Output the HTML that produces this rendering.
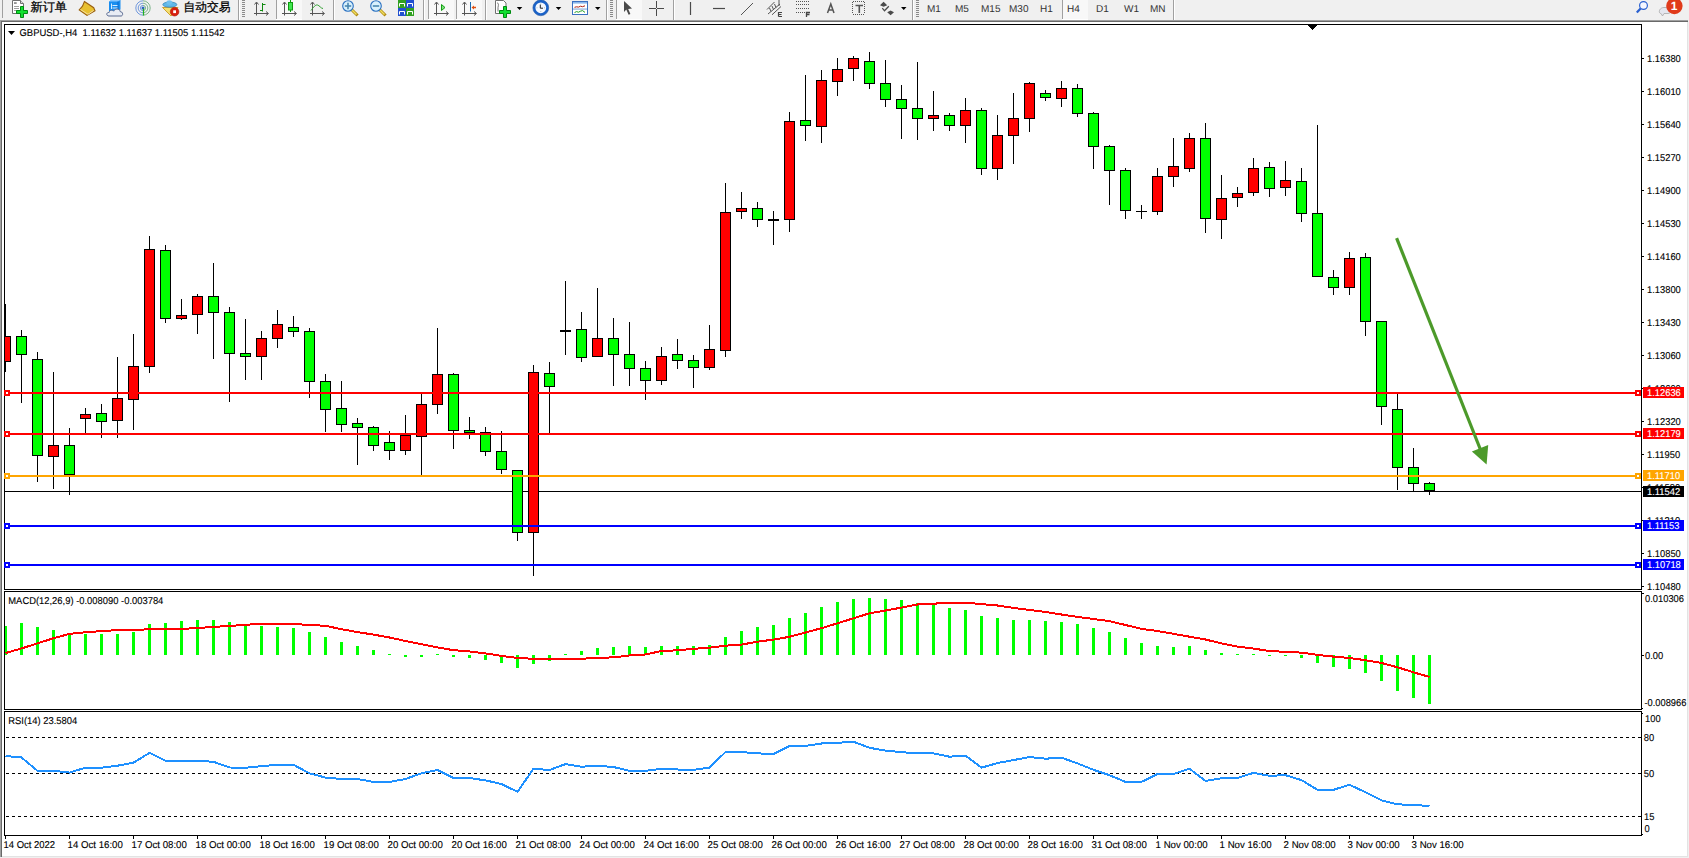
<!DOCTYPE html>
<html><head><meta charset="utf-8"><style>
html,body{margin:0;padding:0;width:1689px;height:858px;overflow:hidden;background:#f0f0f0}
svg{position:absolute;left:0;top:0;display:block}
text{font-family:"Liberation Sans",sans-serif;text-rendering:geometricPrecision}
</style></head><body>
<svg width="1689" height="858" viewBox="0 0 1689 858">
<rect x="0" y="0" width="1689" height="20" fill="#f0f0f0"/>
<rect x="2" y="0" width="1" height="18" fill="#a0a0a0"/>
<path d="M12.5 0.5h8l3 3v10h-11z" fill="#fff" stroke="#707070" stroke-width="1"/><path d="M20.5 0.5v3h3" fill="#ddd" stroke="#707070" stroke-width="1"/>
<rect x="14" y="2.3" width="2.7" height="1.5" fill="#777"/><rect x="14" y="6" width="5" height="0.8" fill="#888"/><rect x="14" y="8" width="5" height="0.8" fill="#888"/><rect x="14" y="10" width="3" height="0.8" fill="#888"/>
<path d="M20.5 6.5h3v4h4v3h-4v4h-3v-4h-4v-3h4z" fill="#10e030" stroke="#008a10" stroke-width="1"/>
<text x="30.5" y="10.6" font-size="12" fill="#000" textLength="36.5" lengthAdjust="spacingAndGlyphs" stroke="#000" stroke-width="0.25">新订单</text>
<path d="M84.4 1.5L93.7 7.7L95 10.8L87 15.4L79.2 10L82.5 6.2Z" fill="#e8c030" stroke="#9a6010" stroke-width="1.1"/><path d="M80.5 9.5L88 14.3L93.5 10.5" stroke="#f4e0a0" stroke-width="1" fill="none"/>
<path d="M109 1.5L111.5 0H120.5V9.5L118 11H109Z" fill="#1a8ef0"/><path d="M109 1.5L111.5 0H120.5L118 1.5Z" fill="#8ac8ff"/><path d="M118 1.5V11" stroke="#0a60c0" stroke-width="0.8"/><path d="M111.5 3.5V9M112.5 5.5h5M112.5 8h5" stroke="#d8ecff" stroke-width="1" fill="none"/>
<path d="M109 16C106 16 106 12.2 109.2 12.4C109.5 10 112.5 9.6 113.6 11.2C114.8 8.2 119.6 8.2 120.2 11.6C123.2 11.6 123.4 16 121 16Z" fill="#e8ecf4" stroke="#5a6a90" stroke-width="1"/>
<path d="M143 0.8A7.2 7.2 0 0 0 143 15.2" stroke="#5a88d8" stroke-width="1" fill="none" opacity="0.85"/>
<path d="M143 0.8A7.2 7.2 0 0 1 143 15.2" stroke="#6aaa78" stroke-width="1" fill="none" opacity="0.85"/>
<path d="M143 3.2A4.8 4.8 0 0 0 143 12.8" stroke="#5a88d8" stroke-width="1" fill="none" opacity="0.85"/>
<path d="M143 3.2A4.8 4.8 0 0 1 143 12.8" stroke="#6aaa78" stroke-width="1" fill="none" opacity="0.85"/>
<path d="M143 5.4A2.6 2.6 0 0 0 143 10.6" stroke="#5a88d8" stroke-width="1" fill="none" opacity="0.85"/>
<path d="M143 5.4A2.6 2.6 0 0 1 143 10.6" stroke="#6aaa78" stroke-width="1" fill="none" opacity="0.85"/>
<circle cx="143" cy="8" r="1.5" fill="#2a60c8"/><path d="M143.5 8.5V15.5" stroke="#20b020" stroke-width="1.2" fill="none"/>
<path d="M162.5 7.5L178 7.5L171 16Z" fill="#f4e070" stroke="#c89a20" stroke-width="0.9"/>
<ellipse cx="169.8" cy="4.6" rx="7" ry="2.6" fill="#60b8e8" stroke="#3a88b8" stroke-width="0.8"/><ellipse cx="169.3" cy="2.6" rx="2.8" ry="2.3" fill="#70c0ee"/>
<circle cx="174.6" cy="11.7" r="4.3" fill="#d82010" stroke="#b01808" stroke-width="0.6"/><rect x="173.2" y="10.3" width="2.8" height="2.8" fill="#fff"/>
<text x="183.5" y="10.6" font-size="12" fill="#000" textLength="47" lengthAdjust="spacingAndGlyphs" stroke="#000" stroke-width="0.25">自动交易</text>
<rect x="238" y="0" width="1" height="20" fill="#a0a0a0"/><rect x="239" y="0" width="1" height="20" fill="#ffffff"/>
<rect x="242" y="0" width="3" height="1" fill="#8a8a8a"/>
<rect x="242" y="2" width="3" height="1" fill="#8a8a8a"/>
<rect x="242" y="4" width="3" height="1" fill="#8a8a8a"/>
<rect x="242" y="6" width="3" height="1" fill="#8a8a8a"/>
<rect x="242" y="8" width="3" height="1" fill="#8a8a8a"/>
<rect x="242" y="10" width="3" height="1" fill="#8a8a8a"/>
<rect x="242" y="12" width="3" height="1" fill="#8a8a8a"/>
<rect x="242" y="14" width="3" height="1" fill="#8a8a8a"/>
<rect x="242" y="16" width="3" height="1" fill="#8a8a8a"/>
<path d="M256.5 2.5V15.5M254 13.5H268" stroke="#555555" stroke-width="1" fill="none"/>
<path d="M254.5 4.5L256.5 2L258.5 4.5M266 11.5L268.5 13.5L266 15.5" stroke="#555555" stroke-width="1" fill="none"/>
<path d="M260 10.5h2.5M262.5 3v8.5M262.5 4.5h3" stroke="#108a10" stroke-width="1" fill="none"/>
<rect x="276" y="0" width="1" height="19" fill="#a0a0a0"/><rect x="277" y="0" width="25" height="19" fill="#f8f8f8"/><rect x="276" y="19" width="26" height="1" fill="#ffffff"/>
<path d="M284.5 2.5V15.5M282 13.5H296" stroke="#555555" stroke-width="1" fill="none"/>
<path d="M282.5 4.5L284.5 2L286.5 4.5M294 11.5L296.5 13.5L294 15.5" stroke="#555555" stroke-width="1" fill="none"/>
<rect x="288.5" y="2.5" width="4" height="7.5" fill="#40e850" stroke="#109a10" stroke-width="1"/><path d="M290.5 0v2.5M290.5 10v2" stroke="#109a10" stroke-width="1"/>
<path d="M312.5 2.5V15.5M310 13.5H324" stroke="#555555" stroke-width="1" fill="none"/>
<path d="M310.5 4.5L312.5 2L314.5 4.5M322 11.5L324.5 13.5L322 15.5" stroke="#555555" stroke-width="1" fill="none"/>
<path d="M311 10.5C313.5 7 315.5 4.5 317.5 5C319.5 5.5 321 8.5 323 8.5" stroke="#30a030" stroke-width="1" fill="none"/>
<rect x="333" y="0" width="1" height="20" fill="#a0a0a0"/><rect x="334" y="0" width="1" height="20" fill="#ffffff"/>
<path d="M351.5 9.5L356.5 14.5" stroke="#b08a10" stroke-width="3" stroke-linecap="square"/><path d="M351.5 9.5L356.5 14.5" stroke="#f0e060" stroke-width="1.4"/>
<circle cx="348" cy="6" r="5.3" fill="#d8f0fc" stroke="#2a70c0" stroke-width="1.1"/>
<path d="M344.8 6H351.2" stroke="#4a88b0" stroke-width="1.6"/>
<path d="M348 2.8V9.2" stroke="#4a88b0" stroke-width="1.6"/>
<path d="M379.5 9.5L384.5 14.5" stroke="#b08a10" stroke-width="3" stroke-linecap="square"/><path d="M379.5 9.5L384.5 14.5" stroke="#f0e060" stroke-width="1.4"/>
<circle cx="376" cy="6" r="5.3" fill="#d8f0fc" stroke="#2a70c0" stroke-width="1.1"/>
<path d="M372.8 6H379.2" stroke="#4a88b0" stroke-width="1.6"/>
<rect x="398" y="0" width="8" height="8" fill="#30a020"/><rect x="406" y="0" width="8" height="8" fill="#2050d0"/><rect x="398" y="8" width="8" height="8" fill="#2050d0"/><rect x="406" y="8" width="8" height="8" fill="#30a020"/>
<path d="M399.5 3.5h5v3M399.5 3.5v3M407.5 3.5h5v3M407.5 3.5v3M399.5 11.5h5v3M399.5 11.5v3M407.5 11.5h5v3M407.5 11.5v3" stroke="#fff" stroke-width="1" fill="none"/>
<rect x="423" y="0" width="1" height="20" fill="#a0a0a0"/><rect x="424" y="0" width="1" height="20" fill="#ffffff"/>
<rect x="428" y="0" width="1" height="19" fill="#a0a0a0"/><rect x="429" y="0" width="25" height="19" fill="#f8f8f8"/><rect x="428" y="19" width="26" height="1" fill="#ffffff"/>
<path d="M436.5 2.5V15.5M434 13.5H448" stroke="#555555" stroke-width="1" fill="none"/>
<path d="M434.5 4.5L436.5 2L438.5 4.5M446 11.5L448.5 13.5L446 15.5" stroke="#555555" stroke-width="1" fill="none"/>
<path d="M441.5 4.5L445 7.5L441.5 10.5Z" fill="#80e080" stroke="#10a010" stroke-width="1"/>
<rect x="456" y="0" width="1" height="19" fill="#a0a0a0"/><rect x="457" y="0" width="25" height="19" fill="#f8f8f8"/><rect x="456" y="19" width="26" height="1" fill="#ffffff"/>
<path d="M464.5 2.5V15.5M462 13.5H476" stroke="#555555" stroke-width="1" fill="none"/>
<path d="M462.5 4.5L464.5 2L466.5 4.5M474 11.5L476.5 13.5L474 15.5" stroke="#555555" stroke-width="1" fill="none"/>
<path d="M470.5 2V11.5" stroke="#1a6ab0" stroke-width="1"/><path d="M471.5 7.5L474 5.5V6.8H476V8.2H474V9.5Z" fill="#e05010"/>
<rect x="485" y="0" width="1" height="20" fill="#a0a0a0"/><rect x="486" y="0" width="1" height="20" fill="#ffffff"/>
<path d="M495.5 0.5h8l2.5 2.5v10.5h-10.5z" fill="#fff" stroke="#707070" stroke-width="1"/><path d="M497 3.5c1 -1 2 0 1 4v4" stroke="#555" stroke-width="0.8" fill="none"/>
<path d="M503.5 6.5h3v4h4v3h-4v4h-3v-4h-4v-3h4z" fill="#10e030" stroke="#008a10" stroke-width="1"/>
<path d="M516.8 7h5.5l-2.75 3z" fill="#000"/>
<circle cx="540.8" cy="7.8" r="6.6" fill="#f4f8ff" stroke="#1a62c8" stroke-width="2.4"/><circle cx="540.8" cy="7.8" r="7.9" fill="none" stroke="#0a48a0" stroke-width="0.6"/><path d="M540.8 3.6v0.8M540.8 11.2v0.8M536.6 7.8h0.8M544.2 7.8h0.8" stroke="#8aa" stroke-width="0.8"/><path d="M540.3 4.6V8.2H543" stroke="#222" stroke-width="1" fill="none"/><rect x="539.6" y="0" width="2.4" height="1" fill="#1a62c8"/>
<path d="M555.8 7h5.5l-2.75 3z" fill="#000"/>
<rect x="572.5" y="1.5" width="15" height="13" fill="#ffffff" stroke="#3a70c0" stroke-width="1"/><rect x="573" y="2" width="14" height="1.6" fill="#8ab8ec"/><rect x="573" y="8.6" width="14" height="0.9" fill="#6a98d0"/>
<path d="M574.5 7.3L576.5 6.8L578.5 7.1L580.5 6.2L582.5 6.7L585 5.8" stroke="#b02010" fill="none" stroke-width="1"/><path d="M574.5 12.6L576.5 11.6L578.5 12.2L580.5 11.2L582.5 10.6L585 12.4" stroke="#20a020" fill="none" stroke-width="1"/>
<path d="M595 7h5.5l-2.75 3z" fill="#000"/>
<rect x="606" y="0" width="1" height="20" fill="#a0a0a0"/><rect x="607" y="0" width="1" height="20" fill="#ffffff"/>
<rect x="610" y="0" width="3" height="1" fill="#8a8a8a"/>
<rect x="610" y="2" width="3" height="1" fill="#8a8a8a"/>
<rect x="610" y="4" width="3" height="1" fill="#8a8a8a"/>
<rect x="610" y="6" width="3" height="1" fill="#8a8a8a"/>
<rect x="610" y="8" width="3" height="1" fill="#8a8a8a"/>
<rect x="610" y="10" width="3" height="1" fill="#8a8a8a"/>
<rect x="610" y="12" width="3" height="1" fill="#8a8a8a"/>
<rect x="610" y="14" width="3" height="1" fill="#8a8a8a"/>
<rect x="610" y="16" width="3" height="1" fill="#8a8a8a"/>
<rect x="616" y="0" width="1" height="20" fill="#a0a0a0"/>
<rect x="616" y="0" width="1" height="19" fill="#a0a0a0"/><rect x="617" y="0" width="25" height="19" fill="#f8f8f8"/><rect x="616" y="19" width="26" height="1" fill="#ffffff"/>
<path d="M624 1V12L626.3 9.6L628.6 14.8L630.4 14L628.2 8.9L632 8.6Z" fill="#4a4a4a"/>
<path d="M649 8.5H656M657 8.5H664M656.5 1V8M656.5 9V16" stroke="#4a4a4a" stroke-width="1"/>
<rect x="673" y="0" width="1" height="20" fill="#a0a0a0"/><rect x="674" y="0" width="1" height="20" fill="#ffffff"/>
<path d="M690.5 2V15" stroke="#4a4a4a" stroke-width="1.2"/>
<path d="M713 8.5H725" stroke="#4a4a4a" stroke-width="1.2"/>
<path d="M741 15L753 3" stroke="#555" stroke-width="1"/>
<path d="M767 9.5L774.5 2M768 14L780 4M772 14.8L781 6.5M769.5 8l1.5 3.5M772 6l1.5 3.5M774.5 4l1.5 3.5M779 0v6" stroke="#555" stroke-width="1" fill="none"/>
<path d="M778.5 16.5V12.5H782M778.5 14.5H781.5M778.5 16.5H782" stroke="#444" stroke-width="1.2" fill="none"/>
<path d="M796 1.5h13M796 4.5h13M796 8.5h13M796 12.5h9" stroke="#555" stroke-width="1" stroke-dasharray="1 1"/>
<path d="M806.5 17V12.5H810M806.5 14.5H809.5" stroke="#444" stroke-width="1.3" fill="none"/>
<path d="M827.5 13L830.8 4L834 13M828.7 10H832.9" stroke="#555" stroke-width="1.5" fill="none"/>
<path d="M853 1.5h12M853 14.5h12M852.5 2v12M864.5 2v12" fill="none" stroke="#555" stroke-width="1" stroke-dasharray="1 1" shape-rendering="crispEdges"/><path d="M855.5 5.5H863M859.3 5.5V13" stroke="#555" stroke-width="1.6" fill="none"/>
<path d="M880 5.2L883.6 1.8L887.2 5.2L883.6 6.8Z M887.2 12.2L890.6 10.4L894 12.2L890.6 15.2Z" fill="#4a4a4a"/><path d="M882.3 8.2l2.2 2.6 4.3-4.6" stroke="#4a4a4a" stroke-width="1.3" fill="none"/>
<path d="M901 7h5.5l-2.75 3z" fill="#000"/>
<rect x="912" y="0" width="1" height="20" fill="#a0a0a0"/><rect x="913" y="0" width="1" height="20" fill="#ffffff"/>
<rect x="916" y="0" width="3" height="1" fill="#8a8a8a"/>
<rect x="916" y="2" width="3" height="1" fill="#8a8a8a"/>
<rect x="916" y="4" width="3" height="1" fill="#8a8a8a"/>
<rect x="916" y="6" width="3" height="1" fill="#8a8a8a"/>
<rect x="916" y="8" width="3" height="1" fill="#8a8a8a"/>
<rect x="916" y="10" width="3" height="1" fill="#8a8a8a"/>
<rect x="916" y="12" width="3" height="1" fill="#8a8a8a"/>
<rect x="916" y="14" width="3" height="1" fill="#8a8a8a"/>
<rect x="916" y="16" width="3" height="1" fill="#8a8a8a"/>
<text x="927" y="12.3" font-size="10" fill="#333">M1</text>
<text x="955" y="12.3" font-size="10" fill="#333">M5</text>
<text x="981" y="12.3" font-size="10" fill="#333">M15</text>
<text x="1009" y="12.3" font-size="10" fill="#333">M30</text>
<text x="1040" y="12.3" font-size="10" fill="#333">H1</text>
<rect x="1062" y="0" width="1" height="19" fill="#a0a0a0"/><rect x="1063" y="0" width="25" height="19" fill="#f8f8f8"/><rect x="1062" y="19" width="26" height="1" fill="#ffffff"/>
<text x="1067" y="12.3" font-size="10" fill="#333">H4</text>
<text x="1096" y="12.3" font-size="10" fill="#333">D1</text>
<text x="1124" y="12.3" font-size="10" fill="#333">W1</text>
<text x="1150" y="12.3" font-size="10" fill="#333">MN</text>
<rect x="1173" y="0" width="1" height="20" fill="#a0a0a0"/><rect x="1174" y="0" width="1" height="20" fill="#ffffff"/>
<circle cx="1643.5" cy="5.5" r="3.9" fill="#f4f6ff" stroke="#2a60d0" stroke-width="1.2"/><path d="M1640.6 8.4L1636.8 12.6" stroke="#2a60d0" stroke-width="2.2"/>
<path d="M1661 13.5C1658 13.5 1659 7.5 1664 7.5H1668C1672 7.5 1672 13.5 1668 13.5H1664L1662.5 16Z" fill="#e4e6ee" stroke="#a8a8a8" stroke-width="0.8"/><circle cx="1674.4" cy="6" r="8.2" fill="#e03a1a"/><text x="1670.8" y="10.3" font-size="12" fill="#fff" font-weight="bold">1</text>
<rect x="0" y="20" width="1688" height="1" fill="#a0a0a0"/>
<rect x="0" y="21" width="1688" height="1" fill="#696969"/>
<rect x="0" y="20" width="1" height="837" fill="#a0a0a0"/>
<rect x="1" y="21" width="1" height="836" fill="#696969"/>
<rect x="2" y="22" width="1685" height="834" fill="#ffffff"/>
<rect x="1687" y="22" width="1" height="835" fill="#e3e3e3"/>
<rect x="2" y="856" width="1686" height="1" fill="#e3e3e3"/>
<defs><clipPath id="cm"><rect x="5" y="25" width="1636" height="564"/></clipPath>
<clipPath id="cd"><rect x="5" y="592" width="1636" height="117"/></clipPath>
<clipPath id="cr"><rect x="5" y="712" width="1636" height="123"/></clipPath></defs>
<g shape-rendering="crispEdges">
<g clip-path="url(#cm)">
<rect x="5" y="491" width="1636" height="1" fill="#000"/>
<rect x="5" y="304" width="1" height="68" fill="#000"/>
<rect x="0" y="336" width="11" height="26" fill="#000"/>
<rect x="1" y="337" width="9" height="24" fill="#ff0000"/>
<rect x="21" y="330" width="1" height="73" fill="#000"/>
<rect x="16" y="336" width="11" height="19" fill="#000"/>
<rect x="17" y="337" width="9" height="17" fill="#00ff00"/>
<rect x="37" y="352" width="1" height="130" fill="#000"/>
<rect x="32" y="359" width="11" height="97" fill="#000"/>
<rect x="33" y="360" width="9" height="95" fill="#00ff00"/>
<rect x="53" y="372" width="1" height="117" fill="#000"/>
<rect x="48" y="445" width="11" height="12" fill="#000"/>
<rect x="49" y="446" width="9" height="10" fill="#ff0000"/>
<rect x="69" y="428" width="1" height="67" fill="#000"/>
<rect x="64" y="445" width="11" height="30" fill="#000"/>
<rect x="65" y="446" width="9" height="28" fill="#00ff00"/>
<rect x="85" y="408" width="1" height="25" fill="#000"/>
<rect x="80" y="414" width="11" height="5" fill="#000"/>
<rect x="81" y="415" width="9" height="3" fill="#ff0000"/>
<rect x="101" y="404" width="1" height="34" fill="#000"/>
<rect x="96" y="413" width="11" height="9" fill="#000"/>
<rect x="97" y="414" width="9" height="7" fill="#00ff00"/>
<rect x="117" y="357" width="1" height="81" fill="#000"/>
<rect x="112" y="398" width="11" height="23" fill="#000"/>
<rect x="113" y="399" width="9" height="21" fill="#ff0000"/>
<rect x="133" y="334" width="1" height="96" fill="#000"/>
<rect x="128" y="366" width="11" height="34" fill="#000"/>
<rect x="129" y="367" width="9" height="32" fill="#ff0000"/>
<rect x="149" y="236" width="1" height="137" fill="#000"/>
<rect x="144" y="249" width="11" height="118" fill="#000"/>
<rect x="145" y="250" width="9" height="116" fill="#ff0000"/>
<rect x="165" y="245" width="1" height="78" fill="#000"/>
<rect x="160" y="250" width="11" height="69" fill="#000"/>
<rect x="161" y="251" width="9" height="67" fill="#00ff00"/>
<rect x="181" y="299" width="1" height="21" fill="#000"/>
<rect x="176" y="315" width="11" height="4" fill="#000"/>
<rect x="177" y="316" width="9" height="2" fill="#ff0000"/>
<rect x="197" y="294" width="1" height="40" fill="#000"/>
<rect x="192" y="296" width="11" height="19" fill="#000"/>
<rect x="193" y="297" width="9" height="17" fill="#ff0000"/>
<rect x="213" y="263" width="1" height="96" fill="#000"/>
<rect x="208" y="296" width="11" height="17" fill="#000"/>
<rect x="209" y="297" width="9" height="15" fill="#00ff00"/>
<rect x="229" y="307" width="1" height="95" fill="#000"/>
<rect x="224" y="312" width="11" height="42" fill="#000"/>
<rect x="225" y="313" width="9" height="40" fill="#00ff00"/>
<rect x="245" y="319" width="1" height="61" fill="#000"/>
<rect x="240" y="353" width="11" height="4" fill="#000"/>
<rect x="241" y="354" width="9" height="2" fill="#00ff00"/>
<rect x="261" y="331" width="1" height="49" fill="#000"/>
<rect x="256" y="338" width="11" height="19" fill="#000"/>
<rect x="257" y="339" width="9" height="17" fill="#ff0000"/>
<rect x="277" y="310" width="1" height="38" fill="#000"/>
<rect x="272" y="324" width="11" height="15" fill="#000"/>
<rect x="273" y="325" width="9" height="13" fill="#ff0000"/>
<rect x="293" y="316" width="1" height="21" fill="#000"/>
<rect x="288" y="327" width="11" height="5" fill="#000"/>
<rect x="289" y="328" width="9" height="3" fill="#00ff00"/>
<rect x="309" y="328" width="1" height="70" fill="#000"/>
<rect x="304" y="331" width="11" height="51" fill="#000"/>
<rect x="305" y="332" width="9" height="49" fill="#00ff00"/>
<rect x="325" y="374" width="1" height="58" fill="#000"/>
<rect x="320" y="381" width="11" height="29" fill="#000"/>
<rect x="321" y="382" width="9" height="27" fill="#00ff00"/>
<rect x="341" y="381" width="1" height="51" fill="#000"/>
<rect x="336" y="408" width="11" height="17" fill="#000"/>
<rect x="337" y="409" width="9" height="15" fill="#00ff00"/>
<rect x="357" y="418" width="1" height="47" fill="#000"/>
<rect x="352" y="423" width="11" height="5" fill="#000"/>
<rect x="353" y="424" width="9" height="3" fill="#00ff00"/>
<rect x="373" y="426" width="1" height="25" fill="#000"/>
<rect x="368" y="427" width="11" height="19" fill="#000"/>
<rect x="369" y="428" width="9" height="17" fill="#00ff00"/>
<rect x="389" y="431" width="1" height="29" fill="#000"/>
<rect x="384" y="442" width="11" height="9" fill="#000"/>
<rect x="385" y="443" width="9" height="7" fill="#00ff00"/>
<rect x="405" y="415" width="1" height="40" fill="#000"/>
<rect x="400" y="435" width="11" height="16" fill="#000"/>
<rect x="401" y="436" width="9" height="14" fill="#ff0000"/>
<rect x="421" y="394" width="1" height="81" fill="#000"/>
<rect x="416" y="404" width="11" height="33" fill="#000"/>
<rect x="417" y="405" width="9" height="31" fill="#ff0000"/>
<rect x="437" y="328" width="1" height="86" fill="#000"/>
<rect x="432" y="374" width="11" height="31" fill="#000"/>
<rect x="433" y="375" width="9" height="29" fill="#ff0000"/>
<rect x="453" y="373" width="1" height="76" fill="#000"/>
<rect x="448" y="374" width="11" height="57" fill="#000"/>
<rect x="449" y="375" width="9" height="55" fill="#00ff00"/>
<rect x="469" y="417" width="1" height="22" fill="#000"/>
<rect x="464" y="430" width="11" height="3" fill="#000"/>
<rect x="465" y="431" width="9" height="1" fill="#00ff00"/>
<rect x="485" y="427" width="1" height="29" fill="#000"/>
<rect x="480" y="432" width="11" height="20" fill="#000"/>
<rect x="481" y="433" width="9" height="18" fill="#00ff00"/>
<rect x="501" y="431" width="1" height="43" fill="#000"/>
<rect x="496" y="451" width="11" height="19" fill="#000"/>
<rect x="497" y="452" width="9" height="17" fill="#00ff00"/>
<rect x="517" y="470" width="1" height="71" fill="#000"/>
<rect x="512" y="470" width="11" height="63" fill="#000"/>
<rect x="513" y="471" width="9" height="61" fill="#00ff00"/>
<rect x="533" y="365" width="1" height="211" fill="#000"/>
<rect x="528" y="372" width="11" height="161" fill="#000"/>
<rect x="529" y="373" width="9" height="159" fill="#ff0000"/>
<rect x="549" y="362" width="1" height="71" fill="#000"/>
<rect x="544" y="373" width="11" height="14" fill="#000"/>
<rect x="545" y="374" width="9" height="12" fill="#00ff00"/>
<rect x="565" y="281" width="1" height="74" fill="#000"/>
<rect x="560" y="330" width="11" height="2" fill="#000"/>
<rect x="581" y="312" width="1" height="50" fill="#000"/>
<rect x="576" y="329" width="11" height="29" fill="#000"/>
<rect x="577" y="330" width="9" height="27" fill="#00ff00"/>
<rect x="597" y="288" width="1" height="69" fill="#000"/>
<rect x="592" y="338" width="11" height="19" fill="#000"/>
<rect x="593" y="339" width="9" height="17" fill="#ff0000"/>
<rect x="613" y="318" width="1" height="68" fill="#000"/>
<rect x="608" y="338" width="11" height="17" fill="#000"/>
<rect x="609" y="339" width="9" height="15" fill="#00ff00"/>
<rect x="629" y="322" width="1" height="64" fill="#000"/>
<rect x="624" y="354" width="11" height="15" fill="#000"/>
<rect x="625" y="355" width="9" height="13" fill="#00ff00"/>
<rect x="645" y="361" width="1" height="39" fill="#000"/>
<rect x="640" y="368" width="11" height="13" fill="#000"/>
<rect x="641" y="369" width="9" height="11" fill="#00ff00"/>
<rect x="661" y="347" width="1" height="38" fill="#000"/>
<rect x="656" y="356" width="11" height="25" fill="#000"/>
<rect x="657" y="357" width="9" height="23" fill="#ff0000"/>
<rect x="677" y="339" width="1" height="30" fill="#000"/>
<rect x="672" y="354" width="11" height="7" fill="#000"/>
<rect x="673" y="355" width="9" height="5" fill="#00ff00"/>
<rect x="693" y="355" width="1" height="33" fill="#000"/>
<rect x="688" y="360" width="11" height="8" fill="#000"/>
<rect x="689" y="361" width="9" height="6" fill="#00ff00"/>
<rect x="709" y="325" width="1" height="45" fill="#000"/>
<rect x="704" y="349" width="11" height="19" fill="#000"/>
<rect x="705" y="350" width="9" height="17" fill="#ff0000"/>
<rect x="725" y="183" width="1" height="174" fill="#000"/>
<rect x="720" y="212" width="11" height="139" fill="#000"/>
<rect x="721" y="213" width="9" height="137" fill="#ff0000"/>
<rect x="741" y="192" width="1" height="27" fill="#000"/>
<rect x="736" y="208" width="11" height="4" fill="#000"/>
<rect x="737" y="209" width="9" height="2" fill="#ff0000"/>
<rect x="757" y="202" width="1" height="25" fill="#000"/>
<rect x="752" y="208" width="11" height="12" fill="#000"/>
<rect x="753" y="209" width="9" height="10" fill="#00ff00"/>
<rect x="773" y="211" width="1" height="34" fill="#000"/>
<rect x="768" y="219" width="11" height="2" fill="#000"/>
<rect x="789" y="112" width="1" height="120" fill="#000"/>
<rect x="784" y="121" width="11" height="99" fill="#000"/>
<rect x="785" y="122" width="9" height="97" fill="#ff0000"/>
<rect x="805" y="75" width="1" height="66" fill="#000"/>
<rect x="800" y="120" width="11" height="6" fill="#000"/>
<rect x="801" y="121" width="9" height="4" fill="#00ff00"/>
<rect x="821" y="70" width="1" height="73" fill="#000"/>
<rect x="816" y="80" width="11" height="47" fill="#000"/>
<rect x="817" y="81" width="9" height="45" fill="#ff0000"/>
<rect x="837" y="58" width="1" height="38" fill="#000"/>
<rect x="832" y="69" width="11" height="13" fill="#000"/>
<rect x="833" y="70" width="9" height="11" fill="#ff0000"/>
<rect x="853" y="56" width="1" height="25" fill="#000"/>
<rect x="848" y="58" width="11" height="11" fill="#000"/>
<rect x="849" y="59" width="9" height="9" fill="#ff0000"/>
<rect x="869" y="52" width="1" height="37" fill="#000"/>
<rect x="864" y="61" width="11" height="23" fill="#000"/>
<rect x="865" y="62" width="9" height="21" fill="#00ff00"/>
<rect x="885" y="60" width="1" height="47" fill="#000"/>
<rect x="880" y="83" width="11" height="17" fill="#000"/>
<rect x="881" y="84" width="9" height="15" fill="#00ff00"/>
<rect x="901" y="85" width="1" height="54" fill="#000"/>
<rect x="896" y="99" width="11" height="10" fill="#000"/>
<rect x="897" y="100" width="9" height="8" fill="#00ff00"/>
<rect x="917" y="62" width="1" height="78" fill="#000"/>
<rect x="912" y="108" width="11" height="11" fill="#000"/>
<rect x="913" y="109" width="9" height="9" fill="#00ff00"/>
<rect x="933" y="91" width="1" height="40" fill="#000"/>
<rect x="928" y="115" width="11" height="4" fill="#000"/>
<rect x="929" y="116" width="9" height="2" fill="#ff0000"/>
<rect x="949" y="113" width="1" height="18" fill="#000"/>
<rect x="944" y="115" width="11" height="11" fill="#000"/>
<rect x="945" y="116" width="9" height="9" fill="#00ff00"/>
<rect x="965" y="98" width="1" height="45" fill="#000"/>
<rect x="960" y="110" width="11" height="16" fill="#000"/>
<rect x="961" y="111" width="9" height="14" fill="#ff0000"/>
<rect x="981" y="108" width="1" height="67" fill="#000"/>
<rect x="976" y="110" width="11" height="59" fill="#000"/>
<rect x="977" y="111" width="9" height="57" fill="#00ff00"/>
<rect x="997" y="115" width="1" height="65" fill="#000"/>
<rect x="992" y="135" width="11" height="34" fill="#000"/>
<rect x="993" y="136" width="9" height="32" fill="#ff0000"/>
<rect x="1013" y="93" width="1" height="71" fill="#000"/>
<rect x="1008" y="118" width="11" height="18" fill="#000"/>
<rect x="1009" y="119" width="9" height="16" fill="#ff0000"/>
<rect x="1029" y="82" width="1" height="50" fill="#000"/>
<rect x="1024" y="83" width="11" height="36" fill="#000"/>
<rect x="1025" y="84" width="9" height="34" fill="#ff0000"/>
<rect x="1045" y="90" width="1" height="11" fill="#000"/>
<rect x="1040" y="93" width="11" height="5" fill="#000"/>
<rect x="1041" y="94" width="9" height="3" fill="#00ff00"/>
<rect x="1061" y="81" width="1" height="26" fill="#000"/>
<rect x="1056" y="88" width="11" height="11" fill="#000"/>
<rect x="1057" y="89" width="9" height="9" fill="#ff0000"/>
<rect x="1077" y="84" width="1" height="33" fill="#000"/>
<rect x="1072" y="88" width="11" height="26" fill="#000"/>
<rect x="1073" y="89" width="9" height="24" fill="#00ff00"/>
<rect x="1093" y="112" width="1" height="57" fill="#000"/>
<rect x="1088" y="113" width="11" height="34" fill="#000"/>
<rect x="1089" y="114" width="9" height="32" fill="#00ff00"/>
<rect x="1109" y="145" width="1" height="60" fill="#000"/>
<rect x="1104" y="146" width="11" height="25" fill="#000"/>
<rect x="1105" y="147" width="9" height="23" fill="#00ff00"/>
<rect x="1125" y="168" width="1" height="51" fill="#000"/>
<rect x="1120" y="170" width="11" height="41" fill="#000"/>
<rect x="1121" y="171" width="9" height="39" fill="#00ff00"/>
<rect x="1141" y="205" width="1" height="14" fill="#000"/>
<rect x="1136" y="211" width="11" height="1" fill="#000"/>
<rect x="1157" y="168" width="1" height="47" fill="#000"/>
<rect x="1152" y="176" width="11" height="36" fill="#000"/>
<rect x="1153" y="177" width="9" height="34" fill="#ff0000"/>
<rect x="1173" y="138" width="1" height="49" fill="#000"/>
<rect x="1168" y="166" width="11" height="11" fill="#000"/>
<rect x="1169" y="167" width="9" height="9" fill="#ff0000"/>
<rect x="1189" y="133" width="1" height="39" fill="#000"/>
<rect x="1184" y="138" width="11" height="31" fill="#000"/>
<rect x="1185" y="139" width="9" height="29" fill="#ff0000"/>
<rect x="1205" y="123" width="1" height="110" fill="#000"/>
<rect x="1200" y="138" width="11" height="81" fill="#000"/>
<rect x="1201" y="139" width="9" height="79" fill="#00ff00"/>
<rect x="1221" y="175" width="1" height="64" fill="#000"/>
<rect x="1216" y="198" width="11" height="22" fill="#000"/>
<rect x="1217" y="199" width="9" height="20" fill="#ff0000"/>
<rect x="1237" y="187" width="1" height="20" fill="#000"/>
<rect x="1232" y="193" width="11" height="5" fill="#000"/>
<rect x="1233" y="194" width="9" height="3" fill="#ff0000"/>
<rect x="1253" y="158" width="1" height="38" fill="#000"/>
<rect x="1248" y="168" width="11" height="25" fill="#000"/>
<rect x="1249" y="169" width="9" height="23" fill="#ff0000"/>
<rect x="1269" y="162" width="1" height="35" fill="#000"/>
<rect x="1264" y="167" width="11" height="22" fill="#000"/>
<rect x="1265" y="168" width="9" height="20" fill="#00ff00"/>
<rect x="1285" y="161" width="1" height="35" fill="#000"/>
<rect x="1280" y="180" width="11" height="8" fill="#000"/>
<rect x="1281" y="181" width="9" height="6" fill="#ff0000"/>
<rect x="1301" y="168" width="1" height="54" fill="#000"/>
<rect x="1296" y="181" width="11" height="33" fill="#000"/>
<rect x="1297" y="182" width="9" height="31" fill="#00ff00"/>
<rect x="1317" y="125" width="1" height="152" fill="#000"/>
<rect x="1312" y="213" width="11" height="64" fill="#000"/>
<rect x="1313" y="214" width="9" height="62" fill="#00ff00"/>
<rect x="1333" y="270" width="1" height="25" fill="#000"/>
<rect x="1328" y="277" width="11" height="11" fill="#000"/>
<rect x="1329" y="278" width="9" height="9" fill="#00ff00"/>
<rect x="1349" y="252" width="1" height="43" fill="#000"/>
<rect x="1344" y="258" width="11" height="30" fill="#000"/>
<rect x="1345" y="259" width="9" height="28" fill="#ff0000"/>
<rect x="1365" y="253" width="1" height="83" fill="#000"/>
<rect x="1360" y="257" width="11" height="65" fill="#000"/>
<rect x="1361" y="258" width="9" height="63" fill="#00ff00"/>
<rect x="1381" y="321" width="1" height="104" fill="#000"/>
<rect x="1376" y="321" width="11" height="86" fill="#000"/>
<rect x="1377" y="322" width="9" height="84" fill="#00ff00"/>
<rect x="1397" y="394" width="1" height="96" fill="#000"/>
<rect x="1392" y="409" width="11" height="59" fill="#000"/>
<rect x="1393" y="410" width="9" height="57" fill="#00ff00"/>
<rect x="1413" y="448" width="1" height="43" fill="#000"/>
<rect x="1408" y="467" width="11" height="17" fill="#000"/>
<rect x="1409" y="468" width="9" height="15" fill="#00ff00"/>
<rect x="1429" y="482" width="1" height="13" fill="#000"/>
<rect x="1424" y="483" width="11" height="8" fill="#000"/>
<rect x="1425" y="484" width="9" height="6" fill="#00ff00"/>
<rect x="5" y="392" width="1636" height="2" fill="#ff0000"/>
<rect x="5" y="433" width="1636" height="2" fill="#ff0000"/>
<rect x="5" y="475" width="1636" height="2" fill="#ffa500"/>
<rect x="5" y="525" width="1636" height="2" fill="#0000ff"/>
<rect x="5" y="564" width="1636" height="2" fill="#0000ff"/>
<g shape-rendering="geometricPrecision"><line x1="1396.6" y1="238.1" x2="1481" y2="451" stroke="#4c9a2a" stroke-width="3.2"/>
<polygon points="1471.9,451.4 1488.2,444.9 1486.6,464.5" fill="#4c9a2a"/></g>
</g>
<g clip-path="url(#cd)">
<rect x="4" y="626" width="3" height="29" fill="#00ff00"/>
<rect x="20" y="623" width="3" height="32" fill="#00ff00"/>
<rect x="36" y="627" width="3" height="28" fill="#00ff00"/>
<rect x="52" y="630" width="3" height="25" fill="#00ff00"/>
<rect x="68" y="633" width="3" height="22" fill="#00ff00"/>
<rect x="84" y="634" width="3" height="21" fill="#00ff00"/>
<rect x="100" y="634" width="3" height="21" fill="#00ff00"/>
<rect x="116" y="634" width="3" height="21" fill="#00ff00"/>
<rect x="132" y="632" width="3" height="23" fill="#00ff00"/>
<rect x="148" y="624" width="3" height="31" fill="#00ff00"/>
<rect x="164" y="623" width="3" height="32" fill="#00ff00"/>
<rect x="180" y="621" width="3" height="34" fill="#00ff00"/>
<rect x="196" y="620" width="3" height="35" fill="#00ff00"/>
<rect x="212" y="620" width="3" height="35" fill="#00ff00"/>
<rect x="228" y="622" width="3" height="33" fill="#00ff00"/>
<rect x="244" y="625" width="3" height="30" fill="#00ff00"/>
<rect x="260" y="626" width="3" height="29" fill="#00ff00"/>
<rect x="276" y="627" width="3" height="28" fill="#00ff00"/>
<rect x="292" y="628" width="3" height="27" fill="#00ff00"/>
<rect x="308" y="632" width="3" height="23" fill="#00ff00"/>
<rect x="324" y="637" width="3" height="18" fill="#00ff00"/>
<rect x="340" y="642" width="3" height="13" fill="#00ff00"/>
<rect x="356" y="646" width="3" height="9" fill="#00ff00"/>
<rect x="372" y="650" width="3" height="5" fill="#00ff00"/>
<rect x="388" y="654" width="3" height="1" fill="#00ff00"/>
<rect x="404" y="655" width="3" height="2" fill="#00ff00"/>
<rect x="420" y="655" width="3" height="2" fill="#00ff00"/>
<rect x="436" y="654" width="3" height="1" fill="#00ff00"/>
<rect x="452" y="655" width="3" height="2" fill="#00ff00"/>
<rect x="468" y="655" width="3" height="3" fill="#00ff00"/>
<rect x="484" y="655" width="3" height="5" fill="#00ff00"/>
<rect x="500" y="655" width="3" height="8" fill="#00ff00"/>
<rect x="516" y="655" width="3" height="13" fill="#00ff00"/>
<rect x="532" y="655" width="3" height="9" fill="#00ff00"/>
<rect x="548" y="655" width="3" height="6" fill="#00ff00"/>
<rect x="564" y="654" width="3" height="1" fill="#00ff00"/>
<rect x="580" y="651" width="3" height="4" fill="#00ff00"/>
<rect x="596" y="648" width="3" height="7" fill="#00ff00"/>
<rect x="612" y="647" width="3" height="8" fill="#00ff00"/>
<rect x="628" y="646" width="3" height="9" fill="#00ff00"/>
<rect x="644" y="647" width="3" height="8" fill="#00ff00"/>
<rect x="660" y="646" width="3" height="9" fill="#00ff00"/>
<rect x="676" y="646" width="3" height="9" fill="#00ff00"/>
<rect x="692" y="646" width="3" height="9" fill="#00ff00"/>
<rect x="708" y="645" width="3" height="10" fill="#00ff00"/>
<rect x="724" y="637" width="3" height="18" fill="#00ff00"/>
<rect x="740" y="631" width="3" height="24" fill="#00ff00"/>
<rect x="756" y="627" width="3" height="28" fill="#00ff00"/>
<rect x="772" y="625" width="3" height="30" fill="#00ff00"/>
<rect x="788" y="618" width="3" height="37" fill="#00ff00"/>
<rect x="804" y="613" width="3" height="42" fill="#00ff00"/>
<rect x="820" y="607" width="3" height="48" fill="#00ff00"/>
<rect x="836" y="602" width="3" height="53" fill="#00ff00"/>
<rect x="852" y="599" width="3" height="56" fill="#00ff00"/>
<rect x="868" y="598" width="3" height="57" fill="#00ff00"/>
<rect x="884" y="599" width="3" height="56" fill="#00ff00"/>
<rect x="900" y="600" width="3" height="55" fill="#00ff00"/>
<rect x="916" y="603" width="3" height="52" fill="#00ff00"/>
<rect x="932" y="605" width="3" height="50" fill="#00ff00"/>
<rect x="948" y="608" width="3" height="47" fill="#00ff00"/>
<rect x="964" y="610" width="3" height="45" fill="#00ff00"/>
<rect x="980" y="616" width="3" height="39" fill="#00ff00"/>
<rect x="996" y="618" width="3" height="37" fill="#00ff00"/>
<rect x="1012" y="620" width="3" height="35" fill="#00ff00"/>
<rect x="1028" y="620" width="3" height="35" fill="#00ff00"/>
<rect x="1044" y="621" width="3" height="34" fill="#00ff00"/>
<rect x="1060" y="622" width="3" height="33" fill="#00ff00"/>
<rect x="1076" y="624" width="3" height="31" fill="#00ff00"/>
<rect x="1092" y="628" width="3" height="27" fill="#00ff00"/>
<rect x="1108" y="632" width="3" height="23" fill="#00ff00"/>
<rect x="1124" y="638" width="3" height="17" fill="#00ff00"/>
<rect x="1140" y="643" width="3" height="12" fill="#00ff00"/>
<rect x="1156" y="646" width="3" height="9" fill="#00ff00"/>
<rect x="1172" y="647" width="3" height="8" fill="#00ff00"/>
<rect x="1188" y="646" width="3" height="9" fill="#00ff00"/>
<rect x="1204" y="650" width="3" height="5" fill="#00ff00"/>
<rect x="1220" y="653" width="3" height="2" fill="#00ff00"/>
<rect x="1236" y="654" width="3" height="1" fill="#00ff00"/>
<rect x="1252" y="654" width="3" height="1" fill="#00ff00"/>
<rect x="1268" y="655" width="3" height="1" fill="#00ff00"/>
<rect x="1284" y="655" width="3" height="1" fill="#00ff00"/>
<rect x="1300" y="655" width="3" height="3" fill="#00ff00"/>
<rect x="1316" y="655" width="3" height="8" fill="#00ff00"/>
<rect x="1332" y="655" width="3" height="12" fill="#00ff00"/>
<rect x="1348" y="655" width="3" height="14" fill="#00ff00"/>
<rect x="1364" y="655" width="3" height="18" fill="#00ff00"/>
<rect x="1380" y="655" width="3" height="26" fill="#00ff00"/>
<rect x="1396" y="655" width="3" height="36" fill="#00ff00"/>
<rect x="1412" y="655" width="3" height="43" fill="#00ff00"/>
<rect x="1428" y="655" width="3" height="49" fill="#00ff00"/>
<polyline points="5.5,653.1 21.5,648.4 37.5,643.4 53.5,638.2 69.5,633.9 85.5,632.2 101.5,631.1 117.5,630.1 133.5,629.7 149.5,629.4 165.5,629.4 181.5,628.9 197.5,628.1 213.5,626.8 229.5,626.1 245.5,624.7 261.5,624.0 277.5,624.0 293.5,624.0 309.5,625.0 325.5,625.8 341.5,629.2 357.5,632.1 373.5,634.6 389.5,637.5 405.5,641.0 421.5,644.3 437.5,647.4 453.5,650.2 469.5,651.4 485.5,653.4 501.5,655.9 517.5,658.0 533.5,658.8 549.5,658.8 565.5,658.8 581.5,658.8 597.5,657.8 613.5,657.4 629.5,655.5 645.5,654.5 661.5,651.0 677.5,650.3 693.5,648.8 709.5,647.7 725.5,645.7 741.5,644.6 757.5,641.7 773.5,639.6 789.5,636.8 805.5,632.5 821.5,628.2 837.5,623.3 853.5,618.3 869.5,613.3 885.5,610.5 901.5,607.6 917.5,604.5 933.5,603.7 949.5,602.7 965.5,602.7 981.5,604.1 997.5,605.5 1013.5,607.9 1029.5,610.0 1045.5,611.9 1061.5,614.5 1077.5,616.9 1093.5,619.0 1109.5,621.1 1125.5,625.0 1141.5,628.9 1157.5,631.0 1173.5,633.8 1189.5,636.7 1205.5,639.5 1221.5,643.4 1237.5,646.6 1253.5,648.6 1269.5,651.0 1285.5,651.9 1301.5,652.6 1317.5,654.9 1333.5,656.6 1349.5,658.0 1365.5,660.2 1381.5,663.0 1397.5,667.3 1413.5,672.3 1429.5,677.0" fill="none" stroke="#ff0000" stroke-width="2" shape-rendering="crispEdges"/>
</g>
<g clip-path="url(#cr)">
<line x1="6" y1="737.5" x2="1641" y2="737.5" stroke="#000" stroke-width="1" stroke-dasharray="3 3"/>
<line x1="6" y1="773.5" x2="1641" y2="773.5" stroke="#000" stroke-width="1" stroke-dasharray="3 3"/>
<line x1="6" y1="816.5" x2="1641" y2="816.5" stroke="#000" stroke-width="1" stroke-dasharray="3 3"/>
<polyline points="5.5,756.0 21.5,757.5 37.5,770.8 53.5,770.8 69.5,772.6 85.5,767.7 101.5,767.7 117.5,765.7 133.5,762.6 149.5,752.9 165.5,760.8 181.5,760.8 197.5,760.8 213.5,761.8 229.5,767.5 245.5,767.7 261.5,766.2 277.5,764.8 293.5,764.8 309.5,773.3 325.5,777.6 341.5,779.0 357.5,779.0 373.5,781.9 389.5,781.9 405.5,779.0 421.5,773.3 437.5,770.0 453.5,778.0 469.5,778.0 485.5,780.4 501.5,784.0 517.5,791.8 533.5,768.7 549.5,770.0 565.5,764.1 581.5,766.7 597.5,765.8 613.5,767.0 629.5,770.9 645.5,770.9 661.5,768.7 677.5,769.5 693.5,769.8 709.5,767.7 725.5,752.0 741.5,752.0 757.5,753.4 773.5,753.9 789.5,745.9 805.5,745.9 821.5,743.5 837.5,742.8 853.5,741.8 869.5,747.8 885.5,750.6 901.5,752.2 917.5,753.4 933.5,753.4 949.5,756.7 965.5,755.6 981.5,767.7 997.5,763.0 1013.5,760.1 1029.5,757.0 1045.5,758.7 1061.5,757.7 1077.5,763.4 1093.5,769.8 1109.5,775.2 1125.5,781.9 1141.5,781.9 1157.5,774.0 1173.5,774.0 1189.5,768.7 1205.5,780.9 1221.5,778.3 1237.5,777.9 1253.5,772.9 1269.5,775.8 1285.5,775.2 1301.5,780.1 1317.5,789.8 1333.5,789.8 1349.5,784.8 1365.5,792.2 1381.5,800.3 1397.5,804.3 1413.5,805.0 1429.5,806.0" fill="none" stroke="#1e90ff" stroke-width="2" shape-rendering="crispEdges"/>
</g>
<rect x="4.5" y="24.5" width="1637" height="565" fill="none" stroke="#000" stroke-width="1"/>
<rect x="4.5" y="591.5" width="1637" height="118" fill="none" stroke="#000" stroke-width="1"/>
<rect x="4.5" y="711.5" width="1637" height="124" fill="none" stroke="#000" stroke-width="1"/>
<rect x="4" y="390" width="6" height="6" fill="#ff0000"/><rect x="6" y="392" width="2" height="2" fill="#fff"/>
<rect x="1635" y="390" width="6" height="6" fill="#ff0000"/><rect x="1637" y="392" width="2" height="2" fill="#fff"/>
<rect x="4" y="431" width="6" height="6" fill="#ff0000"/><rect x="6" y="433" width="2" height="2" fill="#fff"/>
<rect x="1635" y="431" width="6" height="6" fill="#ff0000"/><rect x="1637" y="433" width="2" height="2" fill="#fff"/>
<rect x="4" y="473" width="6" height="6" fill="#ffa500"/><rect x="6" y="475" width="2" height="2" fill="#fff"/>
<rect x="1635" y="473" width="6" height="6" fill="#ffa500"/><rect x="1637" y="475" width="2" height="2" fill="#fff"/>
<rect x="4" y="523" width="6" height="6" fill="#0000ff"/><rect x="6" y="525" width="2" height="2" fill="#fff"/>
<rect x="1635" y="523" width="6" height="6" fill="#0000ff"/><rect x="1637" y="525" width="2" height="2" fill="#fff"/>
<rect x="4" y="562" width="6" height="6" fill="#0000ff"/><rect x="6" y="564" width="2" height="2" fill="#fff"/>
<rect x="1635" y="562" width="6" height="6" fill="#0000ff"/><rect x="1637" y="564" width="2" height="2" fill="#fff"/>
<polygon points="1307.5,25 1317.5,25 1312.5,30.5" fill="#000"/>
<rect x="1642" y="58" width="2" height="1" fill="#000"/>
<rect x="1642" y="91" width="2" height="1" fill="#000"/>
<rect x="1642" y="124" width="2" height="1" fill="#000"/>
<rect x="1642" y="157" width="2" height="1" fill="#000"/>
<rect x="1642" y="190" width="2" height="1" fill="#000"/>
<rect x="1642" y="223" width="2" height="1" fill="#000"/>
<rect x="1642" y="256" width="2" height="1" fill="#000"/>
<rect x="1642" y="289" width="2" height="1" fill="#000"/>
<rect x="1642" y="322" width="2" height="1" fill="#000"/>
<rect x="1642" y="355" width="2" height="1" fill="#000"/>
<rect x="1642" y="388" width="2" height="1" fill="#000"/>
<rect x="1642" y="421" width="2" height="1" fill="#000"/>
<rect x="1642" y="454" width="2" height="1" fill="#000"/>
<rect x="1642" y="487" width="2" height="1" fill="#000"/>
<rect x="1642" y="520" width="2" height="1" fill="#000"/>
<rect x="1642" y="553" width="2" height="1" fill="#000"/>
<rect x="1642" y="586" width="2" height="1" fill="#000"/>
<rect x="5" y="836" width="1" height="3" fill="#000"/>
<rect x="69" y="836" width="1" height="3" fill="#000"/>
<rect x="133" y="836" width="1" height="3" fill="#000"/>
<rect x="197" y="836" width="1" height="3" fill="#000"/>
<rect x="261" y="836" width="1" height="3" fill="#000"/>
<rect x="325" y="836" width="1" height="3" fill="#000"/>
<rect x="389" y="836" width="1" height="3" fill="#000"/>
<rect x="453" y="836" width="1" height="3" fill="#000"/>
<rect x="517" y="836" width="1" height="3" fill="#000"/>
<rect x="581" y="836" width="1" height="3" fill="#000"/>
<rect x="645" y="836" width="1" height="3" fill="#000"/>
<rect x="709" y="836" width="1" height="3" fill="#000"/>
<rect x="773" y="836" width="1" height="3" fill="#000"/>
<rect x="837" y="836" width="1" height="3" fill="#000"/>
<rect x="901" y="836" width="1" height="3" fill="#000"/>
<rect x="965" y="836" width="1" height="3" fill="#000"/>
<rect x="1029" y="836" width="1" height="3" fill="#000"/>
<rect x="1093" y="836" width="1" height="3" fill="#000"/>
<rect x="1157" y="836" width="1" height="3" fill="#000"/>
<rect x="1221" y="836" width="1" height="3" fill="#000"/>
<rect x="1285" y="836" width="1" height="3" fill="#000"/>
<rect x="1349" y="836" width="1" height="3" fill="#000"/>
<rect x="1413" y="836" width="1" height="3" fill="#000"/>
<rect x="1642" y="593" width="2" height="1" fill="#000"/>
<rect x="1642" y="655" width="2" height="1" fill="#000"/>
<rect x="1642" y="708" width="1" height="1" fill="#000"/>
<rect x="1642" y="713" width="1" height="1" fill="#000"/>
<rect x="1642" y="834" width="1" height="1" fill="#000"/>
</g>
<text transform="translate(0 62) scale(1 1) translate(0 -62)" x="1647" y="62" font-size="9.9" fill="#000" stroke="#000" stroke-width="0.12" textLength="33.80" lengthAdjust="spacingAndGlyphs" >1.16380</text>
<text transform="translate(0 95) scale(1 1) translate(0 -95)" x="1647" y="95" font-size="9.9" fill="#000" stroke="#000" stroke-width="0.12" textLength="33.80" lengthAdjust="spacingAndGlyphs" >1.16010</text>
<text transform="translate(0 128) scale(1 1) translate(0 -128)" x="1647" y="128" font-size="9.9" fill="#000" stroke="#000" stroke-width="0.12" textLength="33.80" lengthAdjust="spacingAndGlyphs" >1.15640</text>
<text transform="translate(0 161) scale(1 1) translate(0 -161)" x="1647" y="161" font-size="9.9" fill="#000" stroke="#000" stroke-width="0.12" textLength="33.80" lengthAdjust="spacingAndGlyphs" >1.15270</text>
<text transform="translate(0 194) scale(1 1) translate(0 -194)" x="1647" y="194" font-size="9.9" fill="#000" stroke="#000" stroke-width="0.12" textLength="33.80" lengthAdjust="spacingAndGlyphs" >1.14900</text>
<text transform="translate(0 227) scale(1 1) translate(0 -227)" x="1647" y="227" font-size="9.9" fill="#000" stroke="#000" stroke-width="0.12" textLength="33.80" lengthAdjust="spacingAndGlyphs" >1.14530</text>
<text transform="translate(0 260) scale(1 1) translate(0 -260)" x="1647" y="260" font-size="9.9" fill="#000" stroke="#000" stroke-width="0.12" textLength="33.80" lengthAdjust="spacingAndGlyphs" >1.14160</text>
<text transform="translate(0 293) scale(1 1) translate(0 -293)" x="1647" y="293" font-size="9.9" fill="#000" stroke="#000" stroke-width="0.12" textLength="33.80" lengthAdjust="spacingAndGlyphs" >1.13800</text>
<text transform="translate(0 326) scale(1 1) translate(0 -326)" x="1647" y="326" font-size="9.9" fill="#000" stroke="#000" stroke-width="0.12" textLength="33.80" lengthAdjust="spacingAndGlyphs" >1.13430</text>
<text transform="translate(0 359) scale(1 1) translate(0 -359)" x="1647" y="359" font-size="9.9" fill="#000" stroke="#000" stroke-width="0.12" textLength="33.80" lengthAdjust="spacingAndGlyphs" >1.13060</text>
<text transform="translate(0 392) scale(1 1) translate(0 -392)" x="1647" y="392" font-size="9.9" fill="#000" stroke="#000" stroke-width="0.12" textLength="33.80" lengthAdjust="spacingAndGlyphs" >1.12690</text>
<text transform="translate(0 425) scale(1 1) translate(0 -425)" x="1647" y="425" font-size="9.9" fill="#000" stroke="#000" stroke-width="0.12" textLength="33.80" lengthAdjust="spacingAndGlyphs" >1.12320</text>
<text transform="translate(0 458) scale(1 1) translate(0 -458)" x="1647" y="458" font-size="9.9" fill="#000" stroke="#000" stroke-width="0.12" textLength="33.10" lengthAdjust="spacingAndGlyphs" >1.11950</text>
<text transform="translate(0 491) scale(1 1) translate(0 -491)" x="1647" y="491" font-size="9.9" fill="#000" stroke="#000" stroke-width="0.12" textLength="33.10" lengthAdjust="spacingAndGlyphs" >1.11580</text>
<text transform="translate(0 524) scale(1 1) translate(0 -524)" x="1647" y="524" font-size="9.9" fill="#000" stroke="#000" stroke-width="0.12" textLength="33.10" lengthAdjust="spacingAndGlyphs" >1.11210</text>
<text transform="translate(0 557) scale(1 1) translate(0 -557)" x="1647" y="557" font-size="9.9" fill="#000" stroke="#000" stroke-width="0.12" textLength="33.80" lengthAdjust="spacingAndGlyphs" >1.10850</text>
<text transform="translate(0 590) scale(1 1) translate(0 -590)" x="1647" y="590" font-size="9.9" fill="#000" stroke="#000" stroke-width="0.12" textLength="33.80" lengthAdjust="spacingAndGlyphs" >1.10480</text>
<rect x="1643" y="387" width="41" height="11" fill="#ff0000"/>
<text transform="translate(0 396) scale(1 1) translate(0 -396)" x="1647" y="396" font-size="9.9" fill="#fff" stroke="#fff" stroke-width="0.12" textLength="33.80" lengthAdjust="spacingAndGlyphs" >1.12636</text>
<rect x="1643" y="428" width="41" height="11" fill="#ff0000"/>
<text transform="translate(0 437) scale(1 1) translate(0 -437)" x="1647" y="437" font-size="9.9" fill="#fff" stroke="#fff" stroke-width="0.12" textLength="33.80" lengthAdjust="spacingAndGlyphs" >1.12179</text>
<rect x="1643" y="470" width="41" height="11" fill="#ffa500"/>
<text transform="translate(0 479) scale(1 1) translate(0 -479)" x="1647" y="479" font-size="9.9" fill="#fff" stroke="#fff" stroke-width="0.12" textLength="33.10" lengthAdjust="spacingAndGlyphs" >1.11710</text>
<rect x="1643" y="486" width="41" height="11" fill="#000000"/>
<text transform="translate(0 495) scale(1 1) translate(0 -495)" x="1647" y="495" font-size="9.9" fill="#fff" stroke="#fff" stroke-width="0.12" textLength="33.10" lengthAdjust="spacingAndGlyphs" >1.11542</text>
<rect x="1643" y="520" width="41" height="11" fill="#0000ff"/>
<text transform="translate(0 529) scale(1 1) translate(0 -529)" x="1647" y="529" font-size="9.9" fill="#fff" stroke="#fff" stroke-width="0.12" textLength="32.41" lengthAdjust="spacingAndGlyphs" >1.11153</text>
<rect x="1643" y="559" width="41" height="11" fill="#0000ff"/>
<text transform="translate(0 568) scale(1 1) translate(0 -568)" x="1647" y="568" font-size="9.9" fill="#fff" stroke="#fff" stroke-width="0.12" textLength="33.80" lengthAdjust="spacingAndGlyphs" >1.10718</text>
<text transform="translate(0 602) scale(1 1) translate(0 -602)" x="1645" y="602" font-size="9.9" fill="#000" stroke="#000" stroke-width="0.12" textLength="39.00" lengthAdjust="spacingAndGlyphs" >0.010306</text>
<text transform="translate(0 659) scale(1 1) translate(0 -659)" x="1645" y="659" font-size="9.9" fill="#000" stroke="#000" stroke-width="0.12" textLength="18.20" lengthAdjust="spacingAndGlyphs" >0.00</text>
<text transform="translate(0 706) scale(1 1) translate(0 -706)" x="1644.5" y="706" font-size="9.9" fill="#000" stroke="#000" stroke-width="0.12" textLength="41.89" lengthAdjust="spacingAndGlyphs" >-0.008966</text>
<text transform="translate(0 722) scale(1 1) translate(0 -722)" x="1645" y="722" font-size="9.9" fill="#000" stroke="#000" stroke-width="0.12" textLength="15.60" lengthAdjust="spacingAndGlyphs" >100</text>
<text transform="translate(0 741) scale(1 1) translate(0 -741)" x="1643.8" y="741" font-size="9.9" fill="#000" stroke="#000" stroke-width="0.12" textLength="10.40" lengthAdjust="spacingAndGlyphs" >80</text>
<text transform="translate(0 777) scale(1 1) translate(0 -777)" x="1643.8" y="777" font-size="9.9" fill="#000" stroke="#000" stroke-width="0.12" textLength="10.40" lengthAdjust="spacingAndGlyphs" >50</text>
<text transform="translate(0 820) scale(1 1) translate(0 -820)" x="1644" y="820" font-size="9.9" fill="#000" stroke="#000" stroke-width="0.12" textLength="10.40" lengthAdjust="spacingAndGlyphs" >15</text>
<text transform="translate(0 832) scale(1 1) translate(0 -832)" x="1644.5" y="832" font-size="9.9" fill="#000" stroke="#000" stroke-width="0.12" textLength="5.20" lengthAdjust="spacingAndGlyphs" >0</text>
<text transform="translate(0 848) scale(1 1) translate(0 -848)" x="3.6" y="848" font-size="9.9" fill="#000" stroke="#000" stroke-width="0.12" textLength="51.49" lengthAdjust="spacingAndGlyphs" >14 Oct 2022</text>
<text transform="translate(0 848) scale(1 1) translate(0 -848)" x="67.6" y="848" font-size="9.9" fill="#000" stroke="#000" stroke-width="0.12" textLength="55.26" lengthAdjust="spacingAndGlyphs" >14 Oct 16:00</text>
<text transform="translate(0 848) scale(1 1) translate(0 -848)" x="131.6" y="848" font-size="9.9" fill="#000" stroke="#000" stroke-width="0.12" textLength="55.26" lengthAdjust="spacingAndGlyphs" >17 Oct 08:00</text>
<text transform="translate(0 848) scale(1 1) translate(0 -848)" x="195.6" y="848" font-size="9.9" fill="#000" stroke="#000" stroke-width="0.12" textLength="55.26" lengthAdjust="spacingAndGlyphs" >18 Oct 00:00</text>
<text transform="translate(0 848) scale(1 1) translate(0 -848)" x="259.6" y="848" font-size="9.9" fill="#000" stroke="#000" stroke-width="0.12" textLength="55.26" lengthAdjust="spacingAndGlyphs" >18 Oct 16:00</text>
<text transform="translate(0 848) scale(1 1) translate(0 -848)" x="323.6" y="848" font-size="9.9" fill="#000" stroke="#000" stroke-width="0.12" textLength="55.26" lengthAdjust="spacingAndGlyphs" >19 Oct 08:00</text>
<text transform="translate(0 848) scale(1 1) translate(0 -848)" x="387.6" y="848" font-size="9.9" fill="#000" stroke="#000" stroke-width="0.12" textLength="55.26" lengthAdjust="spacingAndGlyphs" >20 Oct 00:00</text>
<text transform="translate(0 848) scale(1 1) translate(0 -848)" x="451.6" y="848" font-size="9.9" fill="#000" stroke="#000" stroke-width="0.12" textLength="55.26" lengthAdjust="spacingAndGlyphs" >20 Oct 16:00</text>
<text transform="translate(0 848) scale(1 1) translate(0 -848)" x="515.6" y="848" font-size="9.9" fill="#000" stroke="#000" stroke-width="0.12" textLength="55.26" lengthAdjust="spacingAndGlyphs" >21 Oct 08:00</text>
<text transform="translate(0 848) scale(1 1) translate(0 -848)" x="579.6" y="848" font-size="9.9" fill="#000" stroke="#000" stroke-width="0.12" textLength="55.26" lengthAdjust="spacingAndGlyphs" >24 Oct 00:00</text>
<text transform="translate(0 848) scale(1 1) translate(0 -848)" x="643.6" y="848" font-size="9.9" fill="#000" stroke="#000" stroke-width="0.12" textLength="55.26" lengthAdjust="spacingAndGlyphs" >24 Oct 16:00</text>
<text transform="translate(0 848) scale(1 1) translate(0 -848)" x="707.6" y="848" font-size="9.9" fill="#000" stroke="#000" stroke-width="0.12" textLength="55.26" lengthAdjust="spacingAndGlyphs" >25 Oct 08:00</text>
<text transform="translate(0 848) scale(1 1) translate(0 -848)" x="771.6" y="848" font-size="9.9" fill="#000" stroke="#000" stroke-width="0.12" textLength="55.26" lengthAdjust="spacingAndGlyphs" >26 Oct 00:00</text>
<text transform="translate(0 848) scale(1 1) translate(0 -848)" x="835.6" y="848" font-size="9.9" fill="#000" stroke="#000" stroke-width="0.12" textLength="55.26" lengthAdjust="spacingAndGlyphs" >26 Oct 16:00</text>
<text transform="translate(0 848) scale(1 1) translate(0 -848)" x="899.6" y="848" font-size="9.9" fill="#000" stroke="#000" stroke-width="0.12" textLength="55.26" lengthAdjust="spacingAndGlyphs" >27 Oct 08:00</text>
<text transform="translate(0 848) scale(1 1) translate(0 -848)" x="963.6" y="848" font-size="9.9" fill="#000" stroke="#000" stroke-width="0.12" textLength="55.26" lengthAdjust="spacingAndGlyphs" >28 Oct 00:00</text>
<text transform="translate(0 848) scale(1 1) translate(0 -848)" x="1027.6" y="848" font-size="9.9" fill="#000" stroke="#000" stroke-width="0.12" textLength="55.26" lengthAdjust="spacingAndGlyphs" >28 Oct 16:00</text>
<text transform="translate(0 848) scale(1 1) translate(0 -848)" x="1091.6" y="848" font-size="9.9" fill="#000" stroke="#000" stroke-width="0.12" textLength="55.26" lengthAdjust="spacingAndGlyphs" >31 Oct 08:00</text>
<text transform="translate(0 848) scale(1 1) translate(0 -848)" x="1155.6" y="848" font-size="9.9" fill="#000" stroke="#000" stroke-width="0.12" textLength="52.04" lengthAdjust="spacingAndGlyphs" >1 Nov 00:00</text>
<text transform="translate(0 848) scale(1 1) translate(0 -848)" x="1219.6" y="848" font-size="9.9" fill="#000" stroke="#000" stroke-width="0.12" textLength="52.04" lengthAdjust="spacingAndGlyphs" >1 Nov 16:00</text>
<text transform="translate(0 848) scale(1 1) translate(0 -848)" x="1283.6" y="848" font-size="9.9" fill="#000" stroke="#000" stroke-width="0.12" textLength="52.04" lengthAdjust="spacingAndGlyphs" >2 Nov 08:00</text>
<text transform="translate(0 848) scale(1 1) translate(0 -848)" x="1347.6" y="848" font-size="9.9" fill="#000" stroke="#000" stroke-width="0.12" textLength="52.04" lengthAdjust="spacingAndGlyphs" >3 Nov 00:00</text>
<text transform="translate(0 848) scale(1 1) translate(0 -848)" x="1411.6" y="848" font-size="9.9" fill="#000" stroke="#000" stroke-width="0.12" textLength="52.04" lengthAdjust="spacingAndGlyphs" >3 Nov 16:00</text>
<text transform="translate(0 36) scale(1 1) translate(0 -36)" x="19.5" y="36" font-size="9.9" fill="#000" stroke="#000" stroke-width="0.12" textLength="204.94" lengthAdjust="spacingAndGlyphs" >GBPUSD-,H4&#160;&#160;1.11632 1.11637 1.11505 1.11542</text>
<text transform="translate(0 604) scale(1 1) translate(0 -604)" x="8.3" y="604" font-size="9.9" fill="#000" stroke="#000" stroke-width="0.12" textLength="155.03" lengthAdjust="spacingAndGlyphs" >MACD(12,26,9) -0.008090 -0.003784</text>
<text transform="translate(0 724) scale(1 1) translate(0 -724)" x="8.3" y="724" font-size="9.9" fill="#000" stroke="#000" stroke-width="0.12" textLength="68.98" lengthAdjust="spacingAndGlyphs" >RSI(14) 23.5804</text><polygon points="8,31 15,31 11.5,35" fill="#000"/>
</svg>
</body></html>
